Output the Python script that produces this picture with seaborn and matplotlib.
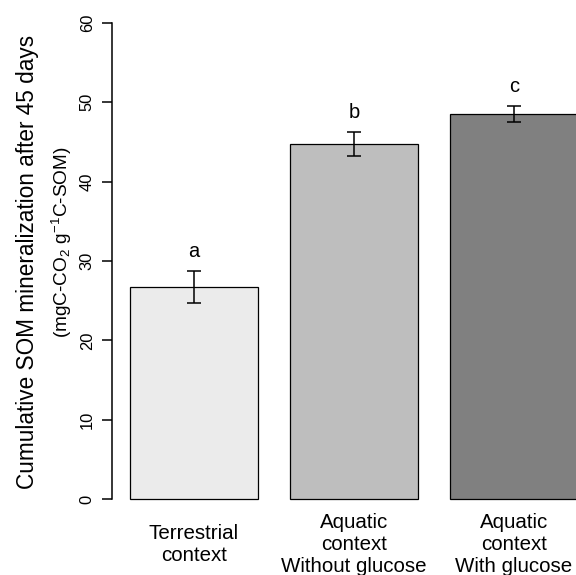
import matplotlib
matplotlib.use("Agg")
import matplotlib.pyplot as plt
import seaborn as sns
import pandas as pd

# values
categories = ["Terrestrial\ncontext", "Aquatic\ncontext\nWithout glucose", "Aquatic\ncontext\nWith glucose"]
means = [26.7, 44.7, 48.5]
errors = [2.0, 1.5, 1.0]
letters = ["a", "b", "c"]
colors = ["#EBEBEB", "#BEBEBE", "#808080"]
yticks = [0, 10, 20, 30, 40, 50, 60]

sns.set_theme(style="white")
plt.rcParams["font.family"] = ["Liberation Sans", "DejaVu Sans"]
plt.rcParams["mathtext.fontset"] = "custom"
plt.rcParams["mathtext.rm"] = "Liberation Sans"
plt.rcParams["mathtext.it"] = "Liberation Sans:italic"
plt.rcParams["text.color"] = "black"
plt.rcParams["xtick.color"] = "black"
plt.rcParams["ytick.color"] = "black"
plt.rcParams["axes.edgecolor"] = "black"

df = pd.DataFrame({"group": categories, "value": means})

fig = plt.figure(figsize=(5.76, 5.75), dpi=100)
ax = fig.add_axes([0.1953, 0.1316, 0.8047, 0.8289])

sns.barplot(data=df, x="group", y="value", hue="group", palette=colors,
            legend=False, width=0.8, saturation=1, edgecolor="black",
            linewidth=0.9, ax=ax)
for p in ax.patches:
    p.set_clip_on(False)

ax.errorbar(range(len(means)), means, yerr=errors, fmt="none",
            ecolor="black", elinewidth=1.1, capsize=4.9, capthick=1.1)

for i, (m, e, l) in enumerate(zip(means, errors, letters)):
    ax.annotate(l, (i, m + e), xytext=(0, 10), textcoords="offset points",
                ha="center", va="baseline", fontsize=14.5)

ax.set_ylim(0, 60)
ax.set_yticks(yticks)
ax.set_xlim(-0.509, 2.3875)
ax.set_xlabel("")
ax.set_ylabel("")

for s in ["top", "right", "bottom"]:
    ax.spines[s].set_visible(False)
ax.spines["left"].set_linewidth(1.1)

ax.tick_params(axis="x", length=0, pad=32.4, labelsize=14.75, bottom=False)
for t in ax.get_xticklabels():
    t.set_va("center")
ax.tick_params(axis="y", left=True, length=7, width=1.1, pad=5.8,
               labelsize=11.9, labelrotation=90)
for t in ax.get_yticklabels():
    t.set_va("center")

fig.text(0.0486, 0.5443, "Cumulative SOM mineralization after 45 days",
         rotation=90, ha="center", va="center", fontsize=16.3)
fig.text(0.1076, 0.579, r"(mgC-CO$_2$ g$^{-1}$C-SOM)",
         rotation=90, ha="center", va="center", fontsize=13.7)

fig.savefig("out.png", dpi=100)
